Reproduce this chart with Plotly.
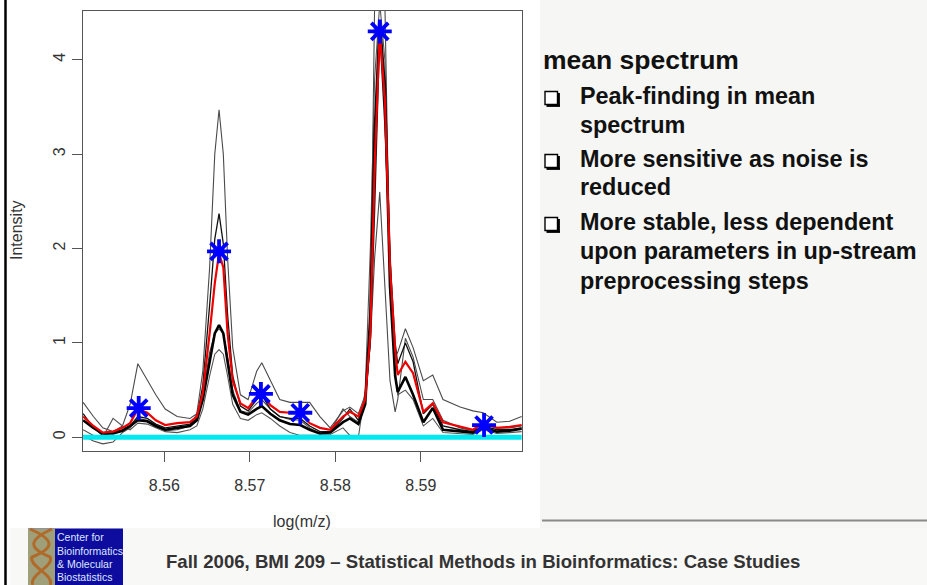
import plotly.graph_objects as go

W, H = 927, 585

# ---------------- data ----------------
log_mz = [8.5505, 8.5517, 8.5528, 8.5540, 8.5551, 8.5560, 8.5569, 8.5580, 8.5590, 8.5601,
          8.5615, 8.5630, 8.5638, 8.5645, 8.5653, 8.5659, 8.5664, 8.5669, 8.5674, 8.5680,
          8.5689, 8.5698, 8.5708, 8.5714, 8.5724, 8.5735, 8.5747, 8.5759, 8.5770, 8.5782,
          8.5794, 8.5809, 8.5817, 8.5827, 8.5835, 8.5841, 8.5846, 8.5852, 8.5858, 8.5864,
          8.5870, 8.5873, 8.5882, 8.5891, 8.5903, 8.5914, 8.5926, 8.5946, 8.5961, 8.5973,
          8.5989, 8.6004, 8.6018]

spec_high = [0.37, 0.22, 0.10, 0.06, 0.12, 0.35, 0.78, 0.60, 0.45, 0.30,
             0.22, 0.20, 0.25, 0.70, 1.80, 3.00, 3.47, 3.00, 1.90, 0.95,
             0.45, 0.40, 0.70, 0.79, 0.60, 0.40, 0.37, 0.37, 0.37, 0.22,
             0.10, 0.28, 0.32, 0.25, 0.45, 1.20, 4.60, 6.00, 4.60, 1.60,
             0.85, 0.90, 1.15, 0.95, 0.60, 0.66, 0.40, 0.32, 0.28, 0.26,
             0.16, 0.17, 0.22]

spec_mid = [0.25, 0.10, 0.02, 0.05, 0.08, 0.12, 0.22, 0.20, 0.14, 0.10,
            0.12, 0.14, 0.20, 0.55, 1.40, 2.10, 2.37, 2.05, 1.30, 0.65,
            0.33, 0.28, 0.40, 0.45, 0.30, 0.22, 0.20, 0.20, 0.12, 0.06,
            0.06, 0.20, 0.30, 0.18, 0.40, 1.00, 2.40, 4.30, 3.30, 1.90,
            1.00, 0.78, 1.00, 0.80, 0.25, 0.35, 0.12, 0.08, 0.06, 0.12,
            0.08, 0.08, 0.10]

spec_thick = [0.18, 0.10, 0.04, 0.04, 0.07, 0.12, 0.18, 0.17, 0.12, 0.08,
              0.10, 0.12, 0.18, 0.40, 0.80, 1.10, 1.19, 1.10, 0.80, 0.45,
              0.27, 0.24, 0.30, 0.33, 0.25, 0.18, 0.14, 0.13, 0.08, 0.04,
              0.05, 0.16, 0.20, 0.14, 0.35, 1.30, 3.20, 4.40, 3.70, 1.60,
              0.65, 0.48, 0.64, 0.45, 0.16, 0.31, 0.08, 0.06, 0.05, 0.10,
              0.06, 0.07, 0.09]

spec_low = [0.08, 0.02, 0.00, 0.20, 0.12, 0.08, 0.15, 0.14, 0.10, 0.06,
            0.05, 0.08, 0.12, 0.30, 0.65, 0.88, 0.93, 0.88, 0.65, 0.35,
            0.20, 0.18, 0.24, 0.26, 0.20, 0.12, 0.05, 0.02, 0.02, 0.02,
            0.03, 0.10, 0.02, 0.00, 0.50, 2.00, 3.80, 4.60, 4.00, 2.00,
            0.70, 0.45, 0.50, 0.40, 0.12, 0.20, 0.05, 0.04, 0.03, 0.08,
            0.04, 0.05, 0.06]

spec_dip = [0.02, -0.04, -0.07, -0.05, 0.05, 0.10, 0.20, 0.18, 0.12, 0.07,
            0.08, 0.12, 0.25, 0.45, 0.90, 1.10, 1.15, 1.10, 0.85, 0.50,
            0.28, 0.26, 0.36, 0.40, 0.30, 0.22, 0.19, 0.18, 0.10, 0.04,
            0.06, 0.30, 0.22, 0.16, 0.40, 1.00, 1.90, 2.60, 1.60, 0.60,
            0.27, 0.40, 1.05, 0.85, 0.40, 0.40, 0.18, 0.10, 0.07, 0.14,
            0.10, 0.10, 0.12]

mean_spectrum = [0.22, 0.12, 0.05, 0.06, 0.10, 0.15, 0.30, 0.26, 0.18, 0.13,
                 0.15, 0.16, 0.22, 0.47, 1.10, 1.63, 1.95, 1.80, 1.10, 0.60,
                 0.36, 0.31, 0.43, 0.47, 0.34, 0.27, 0.26, 0.26, 0.15, 0.10,
                 0.08, 0.22, 0.27, 0.22, 0.40, 1.10, 2.87, 4.30, 3.58, 1.80,
                 0.93, 0.66, 0.80, 0.68, 0.27, 0.36, 0.16, 0.11, 0.08, 0.15,
                 0.10, 0.11, 0.13]

baseline_x = [8.5505, 8.6018]
baseline_y = [0.0, 0.0]

peak_x = [8.5570, 8.5664, 8.5713, 8.5759, 8.5852, 8.5974]
peak_y = [0.31, 1.97, 0.46, 0.26, 4.30, 0.13]

x_ticks = [8.56, 8.57, 8.58, 8.59]
x_tick_text = ["8.56", "8.57", "8.58", "8.59"]
y_ticks = [0, 1, 2, 3, 4]
y_tick_text = ["0", "1", "2", "3", "4"]

heading = "mean spectrum"
bullet_lines = [
    ["Peak-finding in mean", "spectrum"],
    ["More sensitive as noise is", "reduced"],
    ["More stable, less dependent", "upon parameters in up-stream", "preprocessing steps"],
]
footer_text = "Fall 2006, BMI 209 \u2013 Statistical Methods in Bioinformatics: Case Studies"
logo_lines = ["Center for", "Bioinformatics", "& Molecular", "Biostatistics"]

# ---------------- helpers ----------------
def px(x):
    return x / W

def py(y):
    return 1 - y / H

FONT = "Arial, Liberation Sans, sans-serif"

fig = go.Figure()

series = [
    (spec_high, "#4a4a4a", 1.1),
    (spec_low, "#555555", 1.1),
    (spec_dip, "#4a4a4a", 1.1),
    (spec_mid, "#111111", 1.3),
    (spec_thick, "#000000", 2.6),
]
for ys, col, w in series:
    fig.add_trace(go.Scatter(x=log_mz, y=ys, mode="lines",
                             line=dict(color=col, width=w), showlegend=False,
                             hoverinfo="skip"))

fig.add_trace(go.Scatter(x=log_mz, y=mean_spectrum, mode="lines",
                         line=dict(color="#ee0000", width=2.2), showlegend=False))
fig.add_trace(go.Scatter(x=baseline_x, y=baseline_y, mode="lines",
                         line=dict(color="#00e8f0", width=5), showlegend=False))
fig.add_trace(go.Scatter(x=peak_x, y=peak_y, mode="markers",
                         marker=dict(symbol="asterisk-open", size=20, color="#0000ff",
                                     line=dict(color="#0000ff", width=3.8)),
                         showlegend=False))

x0p, x1p = 82.7, 522
y0p, y1p = 10.7, 450.7

axis_common = dict(showline=True, mirror=True, linecolor="#555555", linewidth=1,
                   ticks="outside", ticklen=10, tickcolor="#555555", tickwidth=1,
                   showgrid=False, zeroline=False,
                   tickfont=dict(family=FONT, size=16, color="#333333"))

fig.update_layout(
    width=W, height=H,
    margin=dict(l=0, r=0, t=0, b=0),
    paper_bgcolor="white", plot_bgcolor="white",
    xaxis=dict(domain=[px(x0p), px(x1p)], range=[8.55045, 8.60184],
               tickvals=x_ticks, ticktext=x_tick_text, ticklabelstandoff=10,
               **axis_common),
    yaxis=dict(domain=[py(y1p), py(y0p)], range=[-0.142, 4.52],
               tickvals=y_ticks, ticktext=y_tick_text, tickangle=-90,
               **axis_common),
)

shapes = []
# right panel background
shapes.append(dict(type="rect", xref="paper", yref="paper", x0=px(540), x1=1,
                   y0=py(528), y1=1, fillcolor="#f6f6f4", line=dict(width=0), layer="below"))
# footer band
shapes.append(dict(type="rect", xref="paper", yref="paper", x0=px(10), x1=1,
                   y0=0, y1=py(528), fillcolor="#f8f8f6", line=dict(width=0), layer="below"))
# left black bar
shapes.append(dict(type="line", xref="paper", yref="paper", x0=px(5.5), x1=px(5.5),
                   y0=0, y1=1, line=dict(color="black", width=2.5)))
# divider line
shapes.append(dict(type="line", xref="paper", yref="paper", x0=px(542), x1=1,
                   y0=py(520.5), y1=py(520.5), line=dict(color="#8a8a8a", width=2)))
# logo
shapes.append(dict(type="rect", xref="paper", yref="paper", x0=px(28), x1=px(123),
                   y0=0, y1=py(528.5), fillcolor="#0d0c9e", line=dict(width=0)))
shapes.append(dict(type="rect", xref="paper", yref="paper", x0=px(28), x1=px(55),
                   y0=0, y1=py(528.5), fillcolor="#9fa07a", line=dict(width=0)))
helix1 = "M {} {} C {} {}, {} {}, {} {} C {} {}, {} {}, {} {}".format(
    px(30), py(529), px(55), py(540), px(55), py(548), px(32), py(557),
    px(28), py(566), px(55), py(575), px(50), py(585))
helix2 = "M {} {} C {} {}, {} {}, {} {} C {} {}, {} {}, {} {}".format(
    px(52), py(529), px(28), py(540), px(28), py(548), px(50), py(557),
    px(55), py(566), px(28), py(575), px(33), py(585))
for hp in (helix1, helix2):
    shapes.append(dict(type="path", xref="paper", yref="paper", path=hp,
                       line=dict(color="#b06a2a", width=3)))
# bullets (shadowed squares)
for cy in (98, 161, 224):
    shapes.append(dict(type="rect", xref="paper", yref="paper",
                       x0=px(545), x1=px(557.5), y0=py(cy + 6.5), y1=py(cy - 6.5),
                       fillcolor="white", line=dict(color="black", width=1.4)))
    shapes.append(dict(type="line", xref="paper", yref="paper",
                       x0=px(558.8), x1=px(558.8), y0=py(cy + 8), y1=py(cy - 5),
                       line=dict(color="black", width=2.2)))
    shapes.append(dict(type="line", xref="paper", yref="paper",
                       x0=px(546.5), x1=px(560), y0=py(cy + 7.8), y1=py(cy + 7.8),
                       line=dict(color="black", width=2.2)))
fig.update_layout(shapes=shapes)

ann = []
ann.append(dict(text="Intensity", x=px(17), y=py(230), xref="paper", yref="paper",
                textangle=-90, showarrow=False, xanchor="center", yanchor="middle",
                font=dict(family=FONT, size=16, color="#333333")))
ann.append(dict(text="log(m/z)", x=px(302), y=py(521), xref="paper", yref="paper",
                showarrow=False, xanchor="center", yanchor="middle",
                font=dict(family=FONT, size=16, color="#333333")))
ann.append(dict(text="<b>" + heading + "</b>", x=px(541), y=py(60), xref="paper", yref="paper",
                showarrow=False, xanchor="left", yanchor="middle",
                font=dict(family=FONT, size=26.5, color="#111111")))
line_y = [[96, 125], [159, 187], [222, 251, 281]]
for group, ys in zip(bullet_lines, line_y):
    for t, yy in zip(group, ys):
        ann.append(dict(text="<b>" + t + "</b>", x=px(578), y=py(yy), xref="paper",
                        yref="paper", showarrow=False, xanchor="left", yanchor="middle",
                        font=dict(family=FONT, size=23.4, color="#111111")))
ann.append(dict(text="<b>" + footer_text + "</b>", x=px(164), y=py(561), xref="paper",
                yref="paper", showarrow=False, xanchor="left", yanchor="middle",
                font=dict(family=FONT, size=18.6, color="#333333")))
for t, yy in zip(logo_lines, [537, 550.5, 564, 577]):
    ann.append(dict(text=t, x=px(55), y=py(yy), xref="paper", yref="paper",
                    showarrow=False, xanchor="left", yanchor="middle",
                    font=dict(family=FONT, size=10.5, color="#dde6ff")))
fig.update_layout(annotations=ann)

fig.write_html("out.html")
